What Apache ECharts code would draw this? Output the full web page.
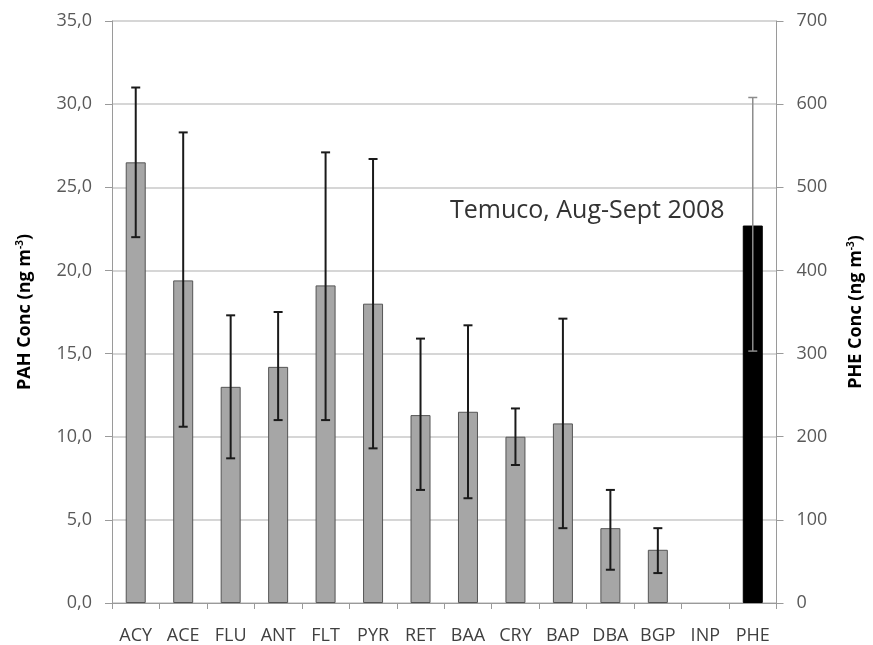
<!DOCTYPE html>
<html>
<head>
<meta charset="utf-8">
<script src="https://cdn.jsdelivr.net/npm/echarts@6/dist/echarts.min.js"></script>
<style>
html,body{margin:0;padding:0;background:#fff;}
#chart{width:873px;height:645px;}
</style>
</head>
<body>
<div id="chart"></div>
<script>
const categories = ['ACY','ACE','FLU','ANT','FLT','PYR','RET','BAA','CRY','BAP','DBA','BGP','INP','PHE'];
const pahMean = [26.5, 19.4, 13.0, 14.2, 19.1, 18.0, 11.3, 11.5, 10.0, 10.8, 4.5, 3.2, null, null];
const pahLow  = [22.0, 10.6, 8.7, 11.0, 11.0, 9.3, 6.8, 6.3, 8.3, 4.5, 2.0, 1.8, null, null];
const pahHigh = [31.0, 28.3, 17.3, 17.5, 27.1, 26.7, 15.9, 16.7, 11.7, 17.1, 6.8, 4.5, null, null];
const pheMean = [null, null, null, null, null, null, null, null, null, null, null, null, null, 454];
const pheLow  = [null, null, null, null, null, null, null, null, null, null, null, null, null, 303];
const pheHigh = [null, null, null, null, null, null, null, null, null, null, null, null, null, 608];
const leftTicks = [0, 5, 10, 15, 20, 25, 30, 35];
const rightTicks = [0, 100, 200, 300, 400, 500, 600, 700];
const annotation = 'Temuco, Aug-Sept 2008';

const FONT = '"Open Sans", "DejaVu Sans", sans-serif';

function errData(lo, hi) {
  const out = [];
  for (let i = 0; i < categories.length; i++) {
    if (lo[i] != null && hi[i] != null) out.push([i, lo[i], hi[i]]);
  }
  return out;
}
function errRender(color, width, half) {
  return function (params, api) {
    const x = api.value(0);
    const lo = api.coord([x, api.value(1)]);
    const hi = api.coord([x, api.value(2)]);
    const st = { stroke: color, lineWidth: width };
    return {
      type: 'group',
      children: [
        { type: 'line', shape: { x1: lo[0], y1: lo[1], x2: hi[0], y2: hi[1] }, style: st },
        { type: 'line', shape: { x1: lo[0] - half, y1: lo[1], x2: lo[0] + half, y2: lo[1] }, style: st },
        { type: 'line', shape: { x1: hi[0] - half, y1: hi[1], x2: hi[0] + half, y2: hi[1] }, style: st }
      ]
    };
  };
}
const nameRich = {
  b: { fontFamily: FONT, fontWeight: 'bold', fontSize: 18, color: '#000' },
  s: { fontFamily: FONT, fontWeight: 'bold', fontSize: 10, color: '#000', verticalAlign: 'top', padding: [0, 0, 9, 0] }
};

const chart = echarts.init(document.getElementById('chart'), null, { renderer: 'canvas' });
chart.setOption({
  animation: false,
  backgroundColor: '#fff',
  grid: { left: 112, right: 95, top: 21, bottom: 42, containLabel: false },
  xAxis: {
    type: 'category',
    data: categories,
    axisLine: { lineStyle: { color: '#9a9a9a', width: 1 } },
    axisTick: { show: true, inside: false, length: 6, alignWithLabel: false, lineStyle: { color: '#9a9a9a' } },
    axisLabel: { color: '#404040', fontFamily: FONT, fontSize: 18, margin: 24, interval: 0 }
  },
  yAxis: [
    {
      type: 'value', min: 0, max: 35, interval: 5,
      name: '{b|PAH Conc (ng m}{s|-3}{b|)}',
      nameLocation: 'middle', nameGap: 78, nameRotate: 90,
      nameTextStyle: { rich: nameRich },
      axisLine: { show: true, lineStyle: { color: '#9a9a9a' } },
      axisTick: { show: true, inside: false, length: 7, lineStyle: { color: '#9a9a9a' } },
      axisLabel: {
        color: '#595959', fontFamily: FONT, fontSize: 18, margin: 20,
        formatter: v => (leftTicks.indexOf(v) >= 0 ? v.toFixed(1).replace('.', ',') : '')
      },
      splitLine: { show: true, lineStyle: { color: '#c8c8c8', width: 1.5 } }
    },
    {
      type: 'value', min: 0, max: 700, interval: 100,
      name: '{b|PHE Conc (ng m}{s|-3}{b|)}',
      nameLocation: 'middle', nameGap: 70, nameRotate: 90,
      nameTextStyle: { rich: nameRich },
      axisLine: { show: true, lineStyle: { color: '#9a9a9a' } },
      axisTick: { show: true, inside: false, length: 7, lineStyle: { color: '#9a9a9a' } },
      axisLabel: {
        color: '#595959', fontFamily: FONT, fontSize: 18, margin: 20,
        formatter: v => (rightTicks.indexOf(v) >= 0 ? String(v) : '')
      },
      splitLine: { show: false }
    }
  ],
  series: [
    {
      type: 'bar', yAxisIndex: 0,
      data: pahMean.map(v => (v == null ? '-' : v)),
      barWidth: 20, barGap: '-100%',
      itemStyle: { color: '#a6a6a6', borderColor: '#555', borderWidth: 1 },
      z: 2
    },
    {
      type: 'bar', yAxisIndex: 1,
      data: pheMean.map(v => (v == null ? '-' : v)),
      barWidth: 20, barGap: '-100%',
      itemStyle: { color: '#000', borderColor: '#000', borderWidth: 1 },
      z: 2
    },
    {
      type: 'custom', yAxisIndex: 0,
      data: errData(pahLow, pahHigh),
      encode: { x: 0, y: [1, 2] },
      renderItem: errRender('#1a1a1a', 2, 4.5),
      z: 5
    },
    {
      type: 'custom', yAxisIndex: 1,
      data: errData(pheLow, pheHigh),
      encode: { x: 0, y: [1, 2] },
      renderItem: errRender('#8c8c8c', 1.5, 4.5),
      z: 5
    }
  ],
  graphic: [
    {
      type: 'text', left: 450, top: 198,
      style: { text: annotation, fontFamily: FONT, fontSize: 25, fill: '#333' }
    }
  ]
});
</script>
</body>
</html>
